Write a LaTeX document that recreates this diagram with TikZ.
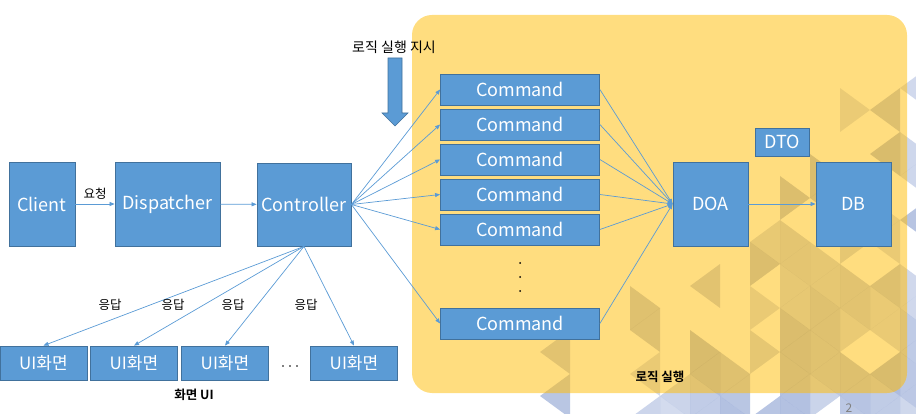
\documentclass[tikz,border=0pt]{standalone}
\usepackage{fontspec}
\setmainfont{Noto Sans CJK KR}[BoldFont={Noto Sans CJK KR Bold}]
\usetikzlibrary{arrows.meta}
\definecolor{boxblue}{HTML}{5B9BD5}
\definecolor{boxedge}{HTML}{41719C}
\definecolor{areaYellow}{HTML}{FFDD7F}
\definecolor{patternBlue}{RGB}{90,120,190}
\tikzset{
  compBox/.style={rectangle, fill=boxblue, draw=boxedge, line width=0.8pt, text=white, inner sep=0pt, font=\fontsize{18}{18}\selectfont},
  uiBox/.style={compBox, minimum width=87pt, minimum height=34pt, font=\fontsize{17}{17}\selectfont},
  cmdBox/.style={compBox, minimum width=159pt, minimum height=31pt},
  call/.style={-{Triangle[length=5pt,width=4pt]}, draw=boxblue, line width=0.7pt},
  note/.style={font=\fontsize{12.5}{12.5}\selectfont}
}
% background triangles of the slide theme
\newcommand\slidePattern[2]{%
  \pgfmathsetseed{1234}%
  \foreach \k in {18,...,30}{%
    \foreach \j in {-1,...,9}{%
      \pgfmathsetmacro\xa{30*\k}%
      \pgfmathsetmacro\ya{44*\j+22*mod(\k,2)}%
      \pgfmathsetmacro\pr{min(0.7,(\xa-620)/280+(\ya-220)/220)}%
      \pgfmathsetmacro\ra{rnd}%
      \pgfmathsetmacro\rb{rnd}%
      \pgfmathsetmacro\op{#2*(0.5+0.5*rnd)}%
      \ifdim\ra pt<\pr pt \fill[#1, fill opacity=\op] (\xa,\ya) -- ++(0,44) -- ++(30,-22) -- cycle;\fi
      \ifdim\rb pt<\pr pt \fill[#1, fill opacity=\op] (\xa+30,\ya+22) -- ++(0,44) -- ++(-30,-22) -- cycle;\fi
    }%
  }%
}
\begin{document}
\begin{tikzpicture}[x=1pt, y=-1pt]
      \useasboundingbox (0,0) rectangle (916,414);

      % logic area
      \slidePattern{patternBlue}{0.5}
      \fill[areaYellow, rounded corners=20pt] (412,15) rectangle (907,393);
      \begin{scope}
        \clip[rounded corners=20pt] (412,15) rectangle (907,393);
        \slidePattern{black}{0.15}
      \end{scope}

      \node[compBox, minimum width=66pt, minimum height=84pt] (client) at (42,204) {Client};
      \node[compBox, minimum width=105pt, minimum height=84pt] (disp) at (167.5,204) {Dispatcher};
      \node[compBox, minimum width=94pt, minimum height=83pt] (ctrl) at (304,204.5) {Controller};

      \node[cmdBox] (cmd1) at (520,89.5) {Command};
      \node[cmdBox] (cmd2) at (520,124.5) {Command};
      \node[cmdBox] (cmd3) at (520,159.5) {Command};
      \node[cmdBox] (cmd4) at (520,194.5) {Command};
      \node[cmdBox] (cmd5) at (520,229.5) {Command};
      \node[cmdBox] (cmd6) at (520,323.5) {Command};
      \foreach \y in {263,277,291}
        \fill (520,\y) circle (1pt);

      \node[compBox, minimum width=75pt, minimum height=84pt] (doa) at (710.5,204) {DOA};
      \node[compBox, minimum width=75pt, minimum height=84pt] (db) at (853.5,204) {DB};
      \node[compBox, minimum width=54pt, minimum height=28pt] (dto) at (782,142) {DTO};

      \node[uiBox] (ui1) at (43.5,363) {UI화면};
      \node[uiBox] (ui2) at (134,363) {UI화면};
      \node[uiBox] (ui3) at (225,363) {UI화면};
      \node[uiBox] (ui4) at (354,363) {UI화면};
      \foreach \x in {283,290,297}
        \fill (\x,366) circle (0.9pt);

      \draw[call] (client) -- (disp) node[note, midway, above=1pt] (req) {요청};
      \draw[call] (disp) -- (ctrl);
      \foreach \i in {1,...,6}{
        \draw[call] (ctrl.east) -- (cmd\i.west);
        \draw[call] (cmd\i.east) -- (doa.west);
      }
      \draw[call] (doa) -- (db);
      \foreach \i in {1,...,4}
        \draw[call] (ctrl.south) -- (ui\i.north);

      \node[note] (resp1) at (110,305) {응답};
      \node[note] (resp2) at (173,305) {응답};
      \node[note] (resp3) at (233,305) {응답};
      \node[note] (resp4) at (306,305) {응답};
      \node[note, font=\fontsize{12.5}{12.5}\selectfont\bfseries] (uiLabel) at (194,395) {화면 UI};

      % instruction arrow
      \node[font=\fontsize{14}{14}\selectfont] (order) at (394,47) {로직 실행 지시};
      \filldraw[fill=boxblue, draw=boxedge, line width=0.6pt] (388,58) -- (402,58) -- (402,113) -- (408,113)
        -- (395,126) -- (382,113) -- (388,113) -- cycle;
      \node[font=\fontsize{12.5}{12.5}\selectfont\bfseries] (run) at (660,377) {로직 실행};

      \node[font=\fontsize{12}{12}\selectfont, text=gray] (page) at (849,408) {2};

    \end{tikzpicture}
\end{document}
